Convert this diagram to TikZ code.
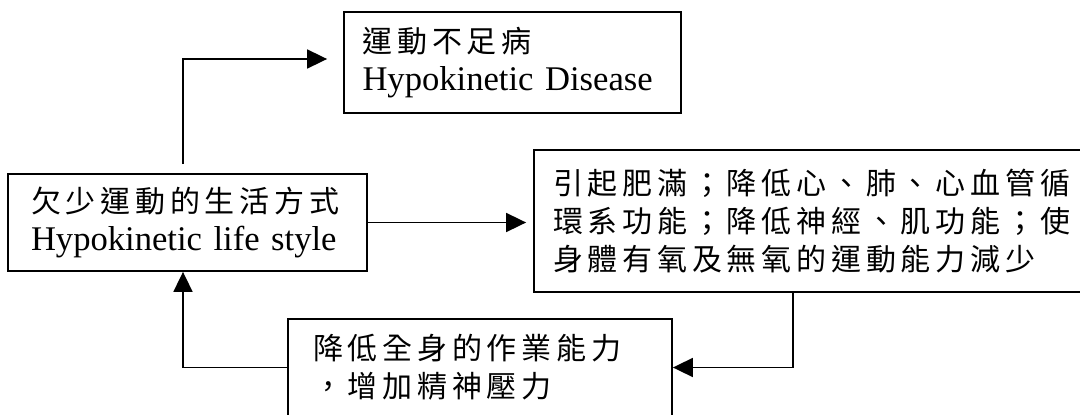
\documentclass[tikz,border=0pt]{standalone}
\usepackage{fontspec}
\setmainfont{Liberation Serif}
\newfontfamily\cjk[LetterSpace=16]{Noto Sans CJK TC}
\usetikzlibrary{arrows.meta}
\tikzset{
  box/.style={draw,line width=1.8pt,inner sep=0pt,align=left,font={\hyphenpenalty=10000\relax\fontsize{34.6}{38}\selectfont}},
  arr/.style={line width=1.8pt,-{Triangle[length=20pt,width=19pt]}}
}

\begin{document}
\begin{tikzpicture}[x=1pt,y=-1pt]
      \useasboundingbox (0,0) rectangle (1080,415);
      \node[box,minimum width=359pt,minimum height=97pt,text width=313pt] (life) at (187.5,222.5)
        {{\cjk\fontsize{30}{38}\selectfont 欠少運動的生活方式}\\Hypokinetic life style};
      \node[box,minimum width=337pt,minimum height=101pt,text width=300pt] (disease) at (512.5,62.5)
        {{\cjk\fontsize{30}{38}\selectfont 運動不足病}\\Hypokinetic Disease};
      \node[box,minimum width=556pt,minimum height=142pt,text width=518pt] (effect) at (812,221)
        {\cjk\fontsize{30}{38}\selectfont 引起肥滿；降低心、肺、心血管循\\環系功能；降低神經、肌功能；使\\身體有氧及無氧的運動能力減少};
      \node[box,minimum width=384pt,minimum height=97pt,text width=334pt] (stress) at (480,367.5)
        {\cjk\fontsize{30}{38}\selectfont 降低全身的作業能力\\，增加精神壓力};
      % loop of arrows
      \draw[arr,shorten <=9pt,shorten >=16pt] ([xshift=-4.5pt]life.north) |- ([yshift=3.5pt]disease.west);
      \draw[arr,shorten >=7pt] (life.east) -- (life.east -| effect.west);
      \draw[arr] ([xshift=-19pt]effect.south) |- (stress.east);
      \draw[arr] (stress.west) -| ([xshift=-4.5pt]life.south);
\end{tikzpicture}
\end{document}
